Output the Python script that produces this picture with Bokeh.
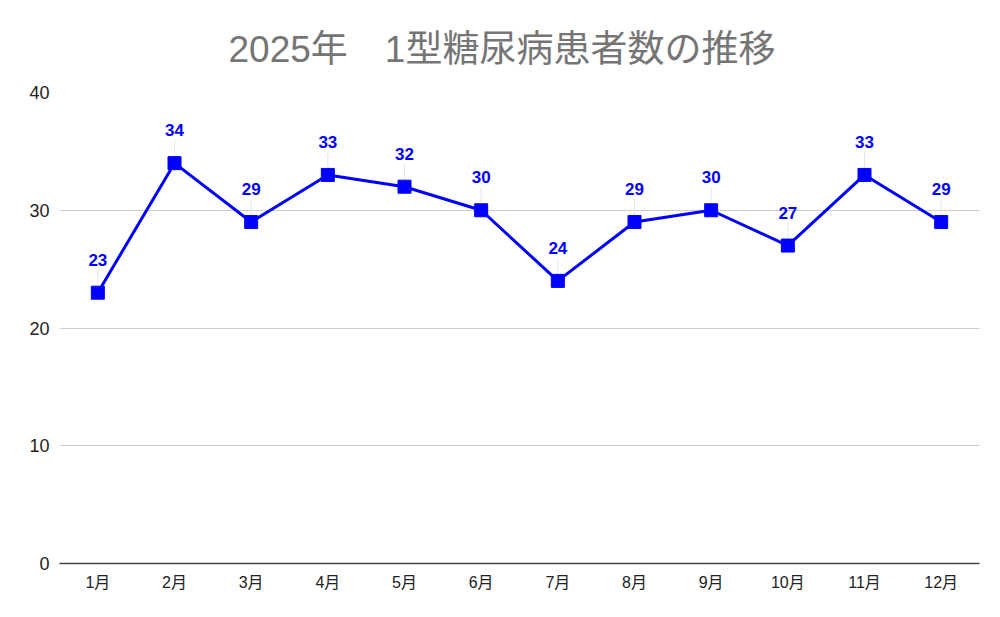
from bokeh.plotting import figure
from bokeh.models import ColumnDataSource, Range1d, FixedTicker
from bokeh.core.properties import value
from bokeh.embed import file_html
from bokeh.resources import INLINE

months = ["1月", "2月", "3月", "4月", "5月", "6月", "7月", "8月", "9月", "10月", "11月", "12月"]
patients = [23, 34, 29, 33, 32, 30, 24, 29, 30, 27, 33, 29]
y_ticks = [0, 10, 20, 30, 40]
title_text = "2025年　1型糖尿病患者数の推移"

FONT = "Liberation Sans, Noto Sans CJK JP"
BLUE = "#0000ff"

src = ColumnDataSource(dict(
    x=months, y=patients,
    lab=[str(v) for v in patients],
    y0=[v + 0.55 for v in patients],
    y1=[v + 1.95 for v in patients],
))

p = figure(x_range=months, y_range=Range1d(0, 40), width=984, height=600,
           output_backend="svg", toolbar_location=None,
           min_border_left=59, min_border_right=5, min_border_top=92, min_border_bottom=37)
p.outline_line_color = None
p.background_fill_color = "white"

p.title.text = title_text
p.title.align = "left"
p.title.offset = 169
p.title.standoff = 46
p.title.text_line_height = 0.7
p.title.text_font = FONT
p.title.text_font_size = "37px"
p.title.text_font_style = "normal"
p.title.text_color = "#757575"

p.yaxis.ticker = FixedTicker(ticks=y_ticks)
p.yaxis.axis_line_color = None
p.yaxis.major_tick_line_color = None
p.yaxis.minor_tick_line_color = None
p.yaxis.major_label_text_font = FONT
p.yaxis.major_label_text_font_size = "18px"
p.yaxis.major_label_text_color = "#222222"
p.yaxis.major_label_standoff = 4

p.xaxis.axis_line_color = "#444444"
p.xaxis.axis_line_width = 1.5
p.xaxis.major_tick_line_color = None
p.xaxis.minor_tick_line_color = None
p.xaxis.major_label_text_font = FONT
p.xaxis.major_label_text_font_size = "16px"
p.xaxis.major_label_text_color = "#222222"
p.xaxis.major_label_standoff = 4

p.xgrid.grid_line_color = None
p.ygrid.grid_line_color = "#cccccc"
p.ygrid.grid_line_width = 1

p.segment(x0="x", y0="y0", x1="x", y1="y1", source=src, line_color="#e6e6e6", line_width=1)
p.line(x="x", y="y", source=src, line_color=BLUE, line_width=3)
p.scatter(x="x", y="y", source=src, marker="square", size=13, fill_color=BLUE, line_color=BLUE)
p.text(x="x", y="y", text="lab", source=src, y_offset=-33,
       text_align="center", text_baseline="middle",
       text_font=value(FONT), text_font_size="17px", text_font_style="bold",
       text_color=BLUE)

open("out.html", "w").write(file_html(p, INLINE))
